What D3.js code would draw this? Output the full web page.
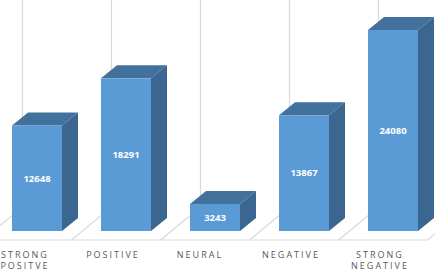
<!DOCTYPE html>
<html>
<head>
<meta charset="utf-8">
<script src="https://cdn.jsdelivr.net/npm/d3@7"></script>
<style>
  html, body { margin: 0; padding: 0; background: #fff; overflow: hidden; }
  svg { display: block; }
  text { font-family: "Open Sans", sans-serif; }
</style>
</head>
<body>
<div id="chart"></div>
<script>
var categories = ["STRONG POSITVE", "POSITIVE", "NEURAL", "NEGATIVE", "STRONG NEGATIVE"];
var values = [12648, 18291, 3243, 13867, 24080];
var labelLines = [["STRONG", "POSITVE"], ["POSITIVE"], ["NEURAL"], ["NEGATIVE"], ["STRONG", "NEGATIVE"]];
var labelCenters = [25, 113, 200, 291, 380];

var width = 435, height = 272;
var depthX = 16, depthY = 13;   // 3d offset of the bars
var floorX = 40, floorY = 33;   // 3d offset of the floor
var baseY = 231, floorFront = 240, floorBack = floorFront - floorY;

var svg = d3.select("#chart").append("svg")
  .attr("width", width)
  .attr("height", height);

var x = d3.scaleBand()
  .domain(categories)
  .range([-7.5, 437.5])
  .paddingInner(39 / 89)
  .paddingOuter(19.5 / 89);

var y = d3.scaleLinear()
  .domain([0, d3.max(values)])
  .range([baseY, 30]);

var line = d3.line();
var grey = "#d9d9d9";

// back wall and floor lines
categories.forEach(function(c){
  var gx = x(c) + 10.5;
  svg.append("path")
    .attr("d", line([[gx, 0], [gx, floorBack], [gx - floorX, floorFront]]))
    .attr("fill", "none")
    .attr("stroke", grey)
    .attr("stroke-width", 1.2);
});
var lastX = x(categories[4]) + 10.5 + 89;
svg.append("path")
  .attr("d", line([[0, floorFront], [lastX - floorX, floorFront], [lastX, floorBack]]))
  .attr("fill", "none")
  .attr("stroke", grey)
  .attr("stroke-width", 1.2);

// bars
var bars = svg.selectAll("g.bar")
  .data(values)
  .enter().append("g")
  .attr("class", "bar");

bars.append("path")
  .attr("fill", "#41719c")
  .attr("d", function(d, i){
    var x0 = x(categories[i]), x1 = x0 + x.bandwidth(), t = y(d);
    return line([[x0, t], [x0 + depthX, t - depthY], [x1 + depthX, t - depthY], [x1, t]]) + "Z";
  });

bars.append("path")
  .attr("fill", "#3b668f")
  .attr("d", function(d, i){
    var x1 = x(categories[i]) + x.bandwidth(), t = y(d);
    return line([[x1, t], [x1 + depthX, t - depthY], [x1 + depthX, baseY - depthY], [x1, baseY]]) + "Z";
  });

bars.append("rect")
  .attr("fill", "#5b9bd5")
  .attr("x", function(d, i){ return x(categories[i]); })
  .attr("y", function(d){ return y(d); })
  .attr("width", x.bandwidth())
  .attr("height", function(d){ return baseY - y(d); });

bars.append("text")
  .attr("x", function(d, i){ return x(categories[i]) + x.bandwidth() / 2; })
  .attr("y", function(d){ return (y(d) + baseY) / 2; })
  .attr("dy", "0.35em")
  .attr("text-anchor", "middle")
  .attr("fill", "#fff")
  .attr("font-size", 9.5)
  .attr("font-weight", 700)
  .text(function(d){ return d; });

// category labels
labelLines.forEach(function(lines, i){
  lines.forEach(function(t, j){
    svg.append("text")
      .attr("x", labelCenters[i])
      .attr("y", 254.5 + j * 11.5)
      .attr("dy", "0.35em")
      .attr("text-anchor", "middle")
      .attr("fill", "#595959")
      .attr("font-size", 9)
      .attr("letter-spacing", 2)
      .text(t);
  });
});
</script>
</body>
</html>
